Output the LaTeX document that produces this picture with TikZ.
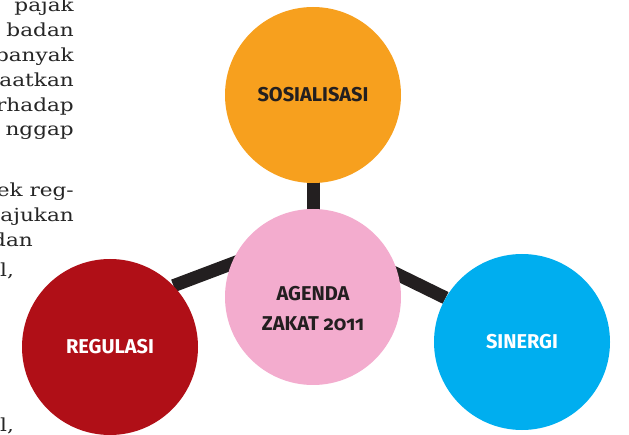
\documentclass[tikz,border=0pt]{standalone}
\usepackage{fontspec}
\setsansfont{Fira Sans}[Numbers=OldStyle]
\newfontfamily\bodyfont{DejaVu Serif}[FakeStretch=1.2]
\usepackage{tikz}
\usetikzlibrary{backgrounds}
\definecolor{oranye}{RGB}{247,160,30}
\definecolor{merahmuda}{RGB}{243,172,206}
\definecolor{merah}{RGB}{176,15,23}
\definecolor{biru}{RGB}{0,174,239}
\definecolor{garis}{RGB}{35,31,32}
\tikzset{
	bubble/.style = {
		circle,
		minimum size = 176pt,
		inner sep    = 0pt,
		draw         = none,
		align        = center,
		font         = \sffamily\bfseries\fontsize{20}{30}\selectfont
	},
	caption/.style = {
		inner sep = 0pt,
		align     = center,
		font      = \sffamily\bfseries\fontsize{20}{30}\selectfont
	},
	spoke/.style = {draw = garis, line width = 13pt},
	body/.style  = {
		anchor     = base east,
		inner sep  = 0pt,
		text       = black!85,
		font       = \bodyfont\fontsize{18}{24}\selectfont
	}
}

\begin{document}
\begin{tikzpicture}[x = 1pt, y = -1pt]
	\useasboundingbox (0,0) rectangle (629,435);
	% column of body text running off the left edge
	\foreach \baris/\y/\x in {pajak/12/74, badan/37/74, banyak/62/74, aatkan/87/74,
		rhadap/112/74, nggap/136/74, ek reg-/197/74, ajukan/222/74, dan/247/33}
	\node[body] (baris\y) at (\x,\y) {\baris};
	\node[body, anchor = base west] (koma1) at (0,277) {l,};
	\node[body, anchor = base west] (koma2) at (0,431) {l,};
	% the four circles
	\node[bubble, fill = oranye, text = garis] (sosialisasi) at (313,95) {SOSIALISASI};
	\node[bubble, fill = merahmuda] (agenda) at (313,297) {};
	\node[caption, text = garis] (agendatext) at ([yshift=-12pt]agenda.center) {AGENDA\\ZAKAT 2011};
	\node[bubble, fill = merah, text = white] (regulasi) at (110,347) {REGULASI};
	\node[bubble, fill = biru, text = white] (sinergi) at (522,342) {SINERGI};
	% spokes meet under the top circle
	\coordinate (hub) at (313,233);
	\begin{scope}[on background layer]
		\draw[spoke] (sosialisasi.center) -- (hub);
		\draw[spoke] (hub) -- (regulasi.44);
		\draw[spoke] (hub) -- (sinergi.150);
	\end{scope}
\end{tikzpicture}
\end{document}
